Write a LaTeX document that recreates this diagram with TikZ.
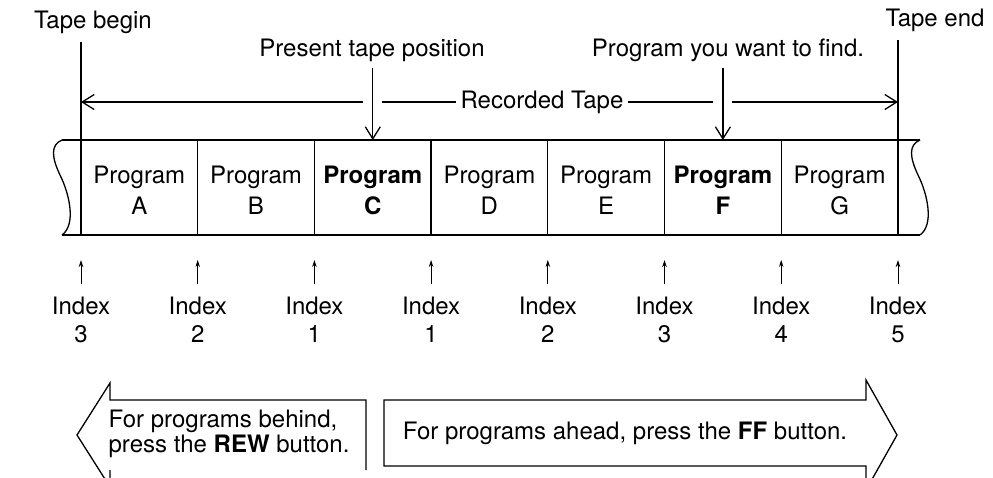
\documentclass[tikz,border=0pt]{standalone}
\usepackage{fontspec}
\setmainfont{TeX Gyre Heros}
\usetikzlibrary{arrows.meta}
\begin{document}
\begin{tikzpicture}[x=1pt,y=-1pt, line width=1.3pt,
  lbl/.style={font=\fontsize{24}{26}\selectfont, inner sep=0pt},
  cell/.style={font=\fontsize{24}{31}\selectfont, align=center, inner sep=0pt},
  barb/.style={-{Straight Barb[length=12pt,width=15pt,line width=1.3pt]}},
  idx/.style={-{Stealth[length=7pt,width=4.5pt]}, line width=1pt},
]
\useasboundingbox (0,0) rectangle (993,477);
\clip (0,0) rectangle (993,477);

% tape body
\coordinate (tl) at (62,140); \coordinate (tr) at (920,140);
\coordinate (bl) at (62,235); \coordinate (br) at (920,235);
\draw (tl) -- (tr);
\draw (bl) -- (br);
\draw (tl) .. controls (50,145) and (52,158) .. (60,175) .. controls (70,195) and (76,225) .. (bl);
\draw (tr) .. controls (908,145) and (910,158) .. (918,175) .. controls (928,195) and (934,225) .. (br);

% begin / end markers
\node[lbl] (tbegin) at (93,22) {Tape begin};
\node[lbl] (tend) at (935,20) {Tape end};
\coordinate (tbt) at (81,42); \coordinate (tbb) at (81,235);
\coordinate (tet) at (898,40); \coordinate (teb) at (898,235);
\draw (tbt) -- (tbb);
\draw (tet) -- (teb);

% dividers
\foreach \x in {197.7,314.4,431.1,547.8,664.5,781.2}{
  \draw (\x,140) -- (\x,235);
}

% cells
\node[cell] (cA) at (139.3,190) {Program\\A};
\node[cell] (cB) at (256.0,190) {Program\\B};
\node[cell] (cC) at (372.8,190) {\textbf{Program}\\\textbf{C}};
\node[cell] (cD) at (489.4,190) {Program\\D};
\node[cell] (cE) at (606.1,190) {Program\\E};
\node[cell] (cF) at (722.9,190) {\textbf{Program}\\\textbf{F}};
\node[cell] (cG) at (839.6,190) {Program\\G};

% pointers from above
\node[lbl] (pres) at (372,50) {Present tape position};
\node[lbl] (want) at (728,50) {Program you want to find.};
\coordinate (pC) at (372.8,140);
\coordinate (pF) at (722.9,140);
\draw[barb] (372.8,68) -- (pC);
\draw[barb] (722.9,68) -- (pF);

% recorded tape span
\node[lbl, inner xsep=4pt, fill=white] (rec) at (542,102) {Recorded Tape};
\coordinate (recL) at (81,102); \coordinate (recR) at (898,102);
\coordinate (g1l) at (363,102); \coordinate (g1r) at (382,102);
\coordinate (g2l) at (713,102); \coordinate (g2r) at (732,102);
\draw[barb] (g1l) -- (recL);
\draw (g1r) -- (rec.west);
\draw (rec.east) -- (g2l);
\draw[barb] (g2r) -- (recR);

% index marks
\foreach \i/\x/\n in {1/81/3,2/197.7/2,3/314.4/1,4/431.1/1,5/547.8/2,6/664.5/3,7/781.2/4,8/898/5}{
  \node[lbl] (ix\i) at (\x,306) {Index};
  \node[lbl] (in\i) at (\x,334) {\n};
  \coordinate (it\i) at (\x,260);
  \draw[idx] ([yshift=12pt]ix\i.north) -- (it\i);
}

% REW arrow
\draw (366,470) -- (366,400) -- (110,400) -- (110,383) -- (77,435) -- (110,487) -- (110,470);
\node[lbl, font=\fontsize{24}{24.5}\selectfont, align=left, anchor=west] (rew) at (108,434)
  {For programs behind,\\press the \textbf{REW} button.};

% FF arrow
\draw (384,400) -- (866,400) -- (866,380) -- (897,435) -- (866,490) -- (866,466) -- (384,466) -- cycle;
\node[lbl] (ff) at (625,433) {For programs ahead, press the \textbf{FF} button.};
\end{tikzpicture}
\end{document}
